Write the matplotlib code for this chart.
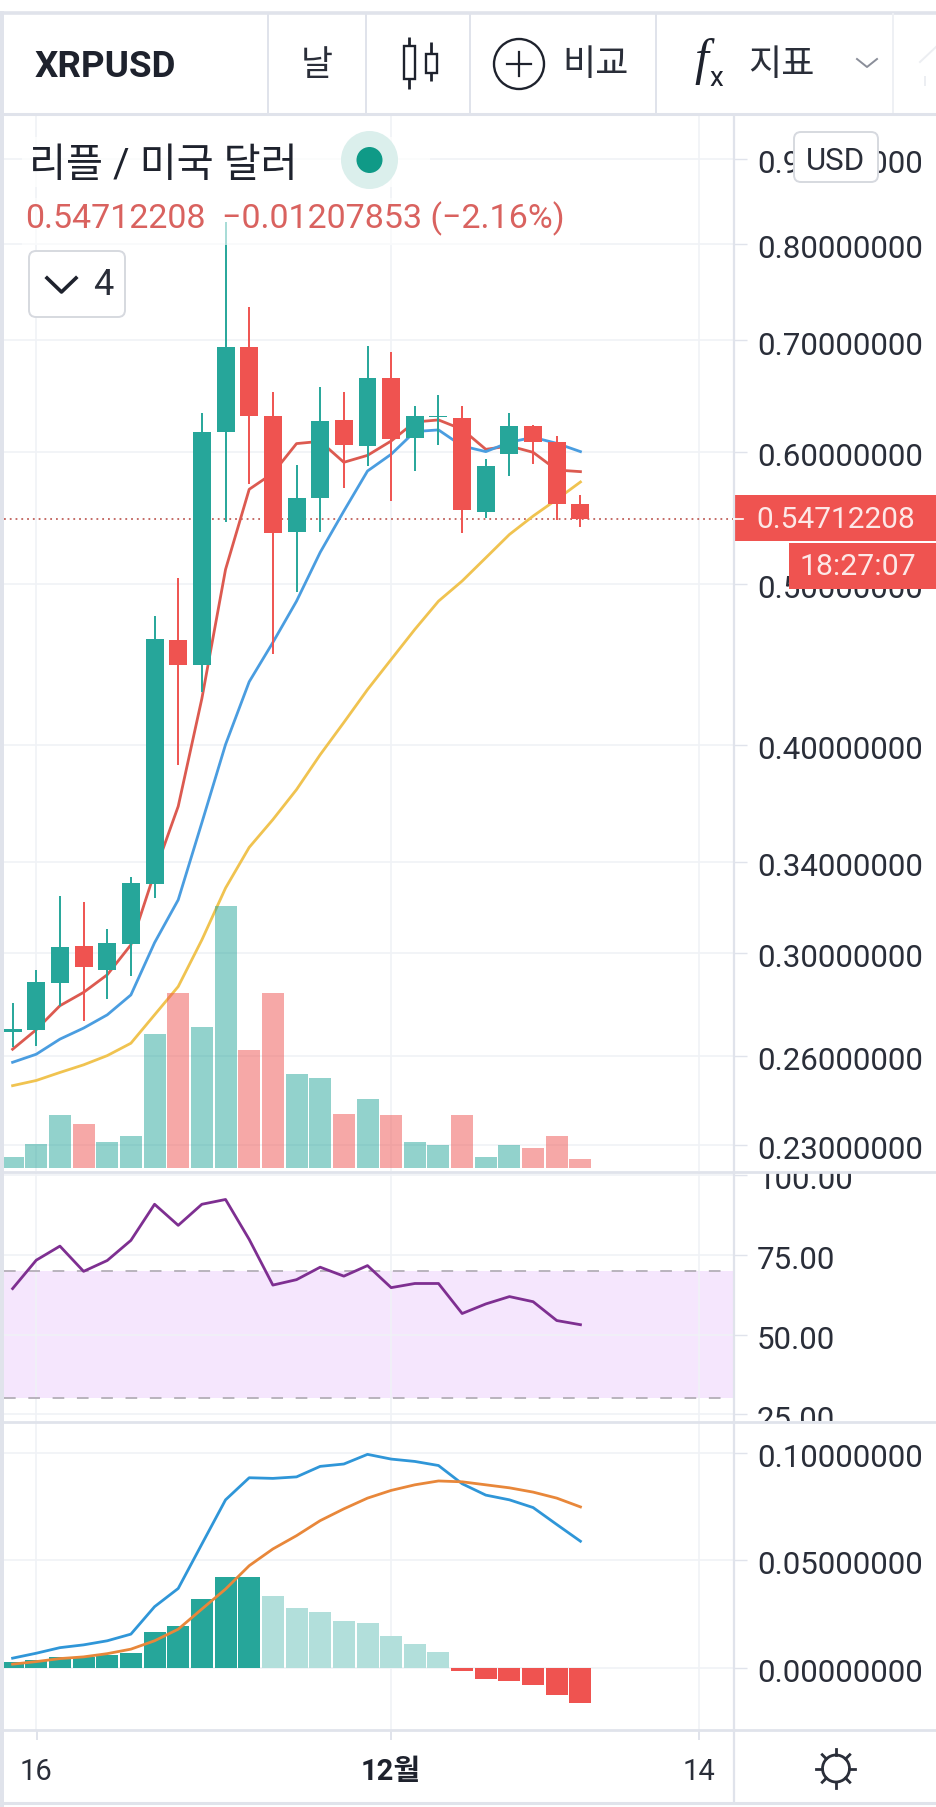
import matplotlib
matplotlib.use("Agg")
import matplotlib.pyplot as plt
from matplotlib.patches import Circle, Ellipse, FancyBboxPatch, Rectangle
from matplotlib.ticker import NullLocator
from matplotlib.transforms import Bbox, ScaledTranslation
import numpy as np

plt.rcParams['font.family'] = ['Roboto', 'Noto Sans CJK KR', 'DejaVu Sans']
plt.rcParams['axes.unicode_minus'] = False

W, H = 937, 1808

# daily candles
opens = [.2690, .2697, .2877, .3030, .2930, .3038, .3301, .4624, .4466, .6165, .6935, .6303, .5368,
         .5626, .6268, .6049, .6643, .6114, .6296, .6288, .5521, .5980, .6219, .6080, .5579]
highs = [.2800, .2930, .3243, .3220, .3101, .3330, .4778, .5036, .6329, .8249, .7330, .6516, .5891,
         .6561, .6516, .6944, .6887, .6393, .6492, .6393, .5938, .6329, .6227, .6131, .5650]
lows = [.2635, .2637, .2785, .2728, .2815, .2906, .3237, .3889, .4306, .5444, .5736, .4533, .4941,
        .5370, .5705, .5884, .5605, .5843, .6055, .5360, .5472, .5800, .5897, .5460, .5407]
closes = [.2700, .2883, .3026, .2940, .3042, .3305, .4633, .4466, .6165, .6935, .6306, .5360, .5626,
          .6260, .6055, .6643, .6105, .6303, .6305, .5536, .5884, .6216, .6083, .5582, .5471]

ma_fast = [.2625, .2697, .2788, .2840, .2910, .3033, .3352, .3674, .4265, .5099, .5697, .5825, .6069,
           .6088, .5914, .5971, .6091, .6253, .6271, .6190, .6021, .6049, .5996, .5851, .5838]
ma_mid = [.2578, .2607, .2662, .2703, .2753, .2830, .3042, .3228, .3592, .4002, .4365, .4609, .4880,
          .5221, .5528, .5843, .5980, .6171, .6185, .6049, .6002, .6080, .6122, .6071, .6002]
ma_slow = [.2496, .2514, .2542, .2569, .2602, .2647, .2753, .2863, .3054, .3281, .3471, .3607, .3760,
           .3946, .4126, .4318, .4502, .4693, .4880, .5018, .5182, .5352, .5490, .5618, .5755]

volume = [1.1, 2.4, 5.3, 4.4, 2.6, 3.2, 13.4, 17.5, 14.1, 26.2, 11.8, 17.5, 9.4,
          9.0, 5.4, 6.9, 5.3, 2.6, 2.3, 5.3, 1.1, 2.3, 2.0, 3.2, 0.9]

rsi = [64.4, 73.3, 77.7, 69.8, 73.2, 79.5, 90.8, 84.2, 90.8, 92.3, 79.8, 65.5, 67.2,
       71.1, 68.3, 71.6, 64.7, 66.0, 66.0, 56.6, 59.6, 61.9, 60.3, 54.4, 53.1]

macd = [.0044, .0067, .0093, .0106, .0125, .0156, .0284, .0369, .0576, .0782, .0885, .0882, .0889,
        .0938, .0949, .0994, .0972, .0961, .0942, .0857, .0804, .0782, .0746, .0667, .0589]
signal = [.0016, .0028, .0042, .0050, .0065, .0086, .0125, .0179, .0273, .0366, .0475, .0553, .0615,
          .0685, .0740, .0790, .0826, .0852, .0870, .0866, .0852, .0838, .0818, .0790, .0749]
hist = [.0026, .0036, .0048, .0051, .0058, .0070, .0164, .0195, .0318, .0421, .0421, .0335, .0276,
        .0257, .0215, .0206, .0148, .0111, .0075, -.0014, -.0051, -.0062, -.0079, -.0126, -.0164]
hist_faded = [False] * 11 + [True] * 8 + [False] * 6

price_ticks = [.9, .8, .7, .6, .5, .4, .34, .3, .26, .23]
rsi_ticks = [100, 75, 50, 25]
macd_ticks = [.1, .05, 0]
date_pos = [1, 16, 29]
date_labels = ['16', '12월', '14']
last_price = 0.54712208

TEAL = '#26a69a'
RED = '#ef5350'
GRID = '#f0f2f6'
EDGE = '#e0e3eb'
INK = '#2a2e39'

fig = plt.figure(figsize=(W / 100, H / 100), dpi=100, facecolor='white')


def pane(y0, y1):
    ax = fig.add_axes([4 / W, 1 - y1 / H, 730 / W, (y1 - y0) / H])
    ax.set_xlim(-0.3635, 30.49)
    ax.patch.set_alpha(0)
    for s in ax.spines.values():
        s.set_visible(False)
    ax.tick_params(axis='x', length=0, labelbottom=False)
    ax.set_xticks(date_pos)
    ax.yaxis.tick_right()
    ax.tick_params(axis='y', length=9.1, width=1, color=EDGE, pad=7.5, labelsize=22.5, labelcolor=INK)
    ax.grid(True, color=GRID, lw=1.2)
    ax.set_axisbelow(True)
    return ax


x = np.arange(len(closes))

# price pane, log scale
ax = pane(116, 1172)
ax.set_yscale('log')
ax.set_ylim(.2218, .9563)
ax.set_yticks(price_ticks)
ax.set_yticklabels([f'{t:.8f}' for t in price_ticks])
ax.yaxis.set_minor_locator(NullLocator())

ax.plot(x, ma_fast, color='#dc5a50', lw=2.0, zorder=2)
ax.plot(x, ma_mid, color='#4a9de0', lw=2.0, zorder=2)
ax.plot(x, ma_slow, color='#f0c350', lw=2.0, zorder=2)
cols = [TEAL if c >= o else RED for o, c in zip(opens, closes)]
ax.vlines(x, lows, highs, colors=cols, lw=1.4, zorder=3)
ax.bar(x, np.abs(np.array(closes) - np.array(opens)), bottom=np.minimum(opens, closes),
       width=0.76, color=cols, zorder=4)
ax.axhline(last_price, color='#c0605a', lw=1.3, ls=(0, (1, 2.2)), zorder=1)

# volume sits on top of the same pane
axv = fig.add_axes(ax.get_position())
axv.set_xlim(ax.get_xlim())
axv.set_ylim(-0.27, 105.33)
axv.axis('off')
axv.bar(x, volume, width=0.93, color=[TEAL if c == TEAL else RED for c in cols], alpha=0.5)

# rsi
ar = pane(1173, 1422.5)
ar.set_ylim(22.8, 100.9)
ar.set_yticks(rsi_ticks)
ar.set_yticklabels([f'{t:.2f}' for t in rsi_ticks])
ar.axhspan(30, 70, color='#f5e6fd', lw=0, zorder=0.5)
ar.axhline(70, color='#b9b3bd', lw=1.4, ls=(0, (6, 6.5)), zorder=1)
ar.axhline(30, color='#b9b3bd', lw=1.4, ls=(0, (6, 6.5)), zorder=1)
ar.plot(x, rsi, color='#7e2f91', lw=2.0, zorder=3)

# macd
am = pane(1423.5, 1730.5)
am.set_ylim(-.02885, .11425)
am.set_yticks(macd_ticks)
am.set_yticklabels([f'{t:.8f}' for t in macd_ticks])
hist_cols = ['#b2dfdb' if f else (TEAL if h >= 0 else RED) for h, f in zip(hist, hist_faded)]
am.bar(x, hist, width=0.93, color=hist_cols, zorder=2)
am.plot(x, macd, color='#2f96d8', lw=2.0, zorder=3)
am.plot(x, signal, color='#e8873a', lw=2.0, zorder=3)

# labels of the small panes get cut off at the pane edge, and sit a little low
nudge = ScaledTranslation(0, -1.6 / 100, fig.dpi_scale_trans)
for a, (y0, y1) in ((ar, (1173, 1422)), (am, (1423, 1731)), (ax, (116, 1172))):
    for lab in a.get_yticklabels():
        lab.set_transform(lab.get_transform() + nudge)
        lab.set_clip_box(Bbox([[734, H - y1], [W, H - y0]]))
        lab.set_clip_on(True)

# page furniture, in pixels
ui = fig.add_axes([0, 0, 1, 1], zorder=10)
ui.set_xlim(0, W)
ui.set_ylim(H, 0)
ui.axis('off')


def hline(y, x0=0, x1=W, c=EDGE, lw=2.0):
    ui.plot([x0, x1], [y, y], color=c, lw=lw, solid_capstyle='butt')


def vline(xp, y0, y1, c=EDGE, lw=1.4):
    ui.plot([xp, xp], [y0, y1], color=c, lw=lw, solid_capstyle='butt')


ui.add_patch(Rectangle((0, 12), 4, 1796, color=EDGE, lw=0))
hline(13.5, lw=2.6)
hline(115, lw=2.2)
hline(1172.5)
hline(1422.8)
hline(1730.8)
hline(1803.5, lw=2.2)
vline(734.5, 115, 1803, lw=1.6)
for xp in (268, 366.5, 470, 656):
    vline(xp, 14, 114)
vline(893.5, 14, 114, c='#eef0f4')
for xp in (36.8, 391):
    vline(xp, 1731, 1741, c=EDGE)
vline(699, 1731, 1741, c=EDGE)

# header
ui.text(35, 67, 'XRPUSD', fontsize=26.5, fontweight='bold', color='#1e222d', va='center')
ui.text(317, 65, '날', fontsize=25, color=INK, ha='center', va='center')
for xc, ya, yb, yc, yd in ((409.5, 38, 47, 80, 90), (431.5, 43, 55, 74, 82)):
    vline(xc, ya, yb, c='#1e222d', lw=2)
    vline(xc, yc, yd, c='#1e222d', lw=2)
    ui.add_patch(Rectangle((xc - 5.5, yb), 11, yc - yb, fill=False, ec='#1e222d', lw=1.7))
ui.add_patch(Ellipse((519, 65), 50, 50, fill=False, ec='#1e222d', lw=1.7))
ui.plot([507, 531], [65, 65], color='#1e222d', lw=1.6)
ui.plot([519, 519], [53, 77], color='#1e222d', lw=1.6)
ui.text(596, 65, '비교', fontsize=26, color=INK, ha='center', va='center')
ui.text(701, 62, 'f', fontsize=36, family='Liberation Serif', style='italic',
        color='#1e222d', ha='center', va='center')
ui.text(716, 78, 'x', fontsize=20, color='#1e222d', ha='center', va='center')
ui.text(781, 65, '지표', fontsize=26, color=INK, ha='center', va='center')
ui.plot([857, 867, 877], [60, 68, 60], color='#8a8e99', lw=1.4)
ui.plot([920, 937], [63, 47], color='#eceef2', lw=1.4)
vline(925, 77, 87, c='#eceef2')

# legend rows wash out what is behind them
ui.add_patch(Rectangle((22, 138), 408, 50, color='white', alpha=0.75, lw=0))
ui.add_patch(Rectangle((22, 199), 558, 47, color='white', alpha=0.6, lw=0))
ui.text(29, 165, '리플 / 미국 달러', fontsize=29, color='#1e222d', va='center')
ui.add_patch(Ellipse((369.5, 161), 57, 58, color='#dbefec', lw=0))
ui.add_patch(Ellipse((369.5, 161), 26, 26, color='#0f9a87', lw=0))
ui.text(25, 219, '0.54712208', fontsize=24.5, color='#d9625f', va='center')
ui.text(222, 219, '−0.01207853 (−2.16%)', fontsize=24.5, color='#d9625f', va='center')
ui.add_patch(FancyBboxPatch((33, 256), 88, 58, boxstyle='round,pad=4,rounding_size=7',
                            fc='white', ec='#d6d9df', lw=1.4))
ui.plot([47, 61.5, 76], [279, 293, 279], color='#1e222d', lw=2.6)
ui.text(103, 285, '4', fontsize=26, color=INK, ha='center', va='center')

ui.add_patch(FancyBboxPatch((798, 137), 76, 42, boxstyle='round,pad=4,rounding_size=7',
                            fc='white', ec='#d6d9df', lw=1.4))
ui.text(836, 161, 'USD', fontsize=22.5, color=INK, ha='center', va='center')

# last price tags
ui.add_patch(Rectangle((734, 496), 203, 46, color=RED, lw=0))
ui.add_patch(Rectangle((789, 544), 148, 46, color=RED, lw=0))
ui.plot([734, 743], [519.5, 519.5], color='white', lw=1.2)
ui.text(756, 520, '0.54712208', fontsize=21.5, color='#fde8e7', va='center')
ui.text(800, 567, '18:27:07', fontsize=21.8, color='#fde8e7', va='center')

# dates
for p, lab in zip(date_pos, date_labels):
    bold = lab.endswith('월')
    ui.text(12.6 + 23.66 * p, 1772, lab, fontsize=21, color='#1e222d' if bold else INK, ha='center', va='center',
            fontweight='bold' if bold else 'normal')

# settings gear
ui.add_patch(Circle((836, 1769.5), 13.5, fill=False, ec='#2a2e39', lw=2))
for k in range(8):
    ang = k * np.pi / 4
    ui.plot([836 + 13.5 * np.cos(ang), 836 + 19.5 * np.cos(ang)],
            [1769.5 + 13.5 * np.sin(ang), 1769.5 + 19.5 * np.sin(ang)], color='#2a2e39', lw=2)

fig.savefig('out.png', dpi=100)
